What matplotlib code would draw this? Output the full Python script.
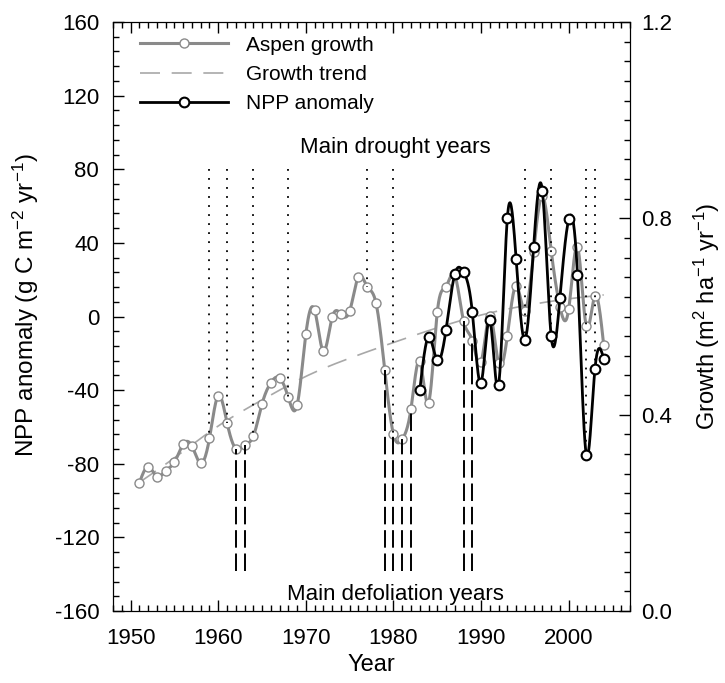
#!/usr/bin/env python3
"""Aspen growth vs NPP anomaly with drought and defoliation years."""
import numpy as np
import matplotlib
matplotlib.use("Agg")
import matplotlib.pyplot as plt
from matplotlib.lines import Line2D
from matplotlib.ticker import MultipleLocator, FormatStrFormatter

plt.rcParams["font.family"] = ["Liberation Sans", "DejaVu Sans"]
plt.rcParams["mathtext.fontset"] = "custom"
plt.rcParams["mathtext.rm"] = "Liberation Sans"
plt.rcParams["mathtext.it"] = "Liberation Sans:italic"
plt.rcParams["axes.unicode_minus"] = False
plt.rcParams["xtick.direction"] = "in"
plt.rcParams["ytick.direction"] = "in"

# ---- data ----
growth_years = list(range(1951, 2005))
growth = [0.261, 0.294, 0.274, 0.286, 0.303, 0.340, 0.336, 0.301, 0.352, 0.439,
          0.384, 0.331, 0.338, 0.356, 0.422, 0.465, 0.475, 0.435, 0.419, 0.564,
          0.613, 0.529, 0.598, 0.605, 0.611, 0.681, 0.661, 0.628, 0.492, 0.360,
          0.350, 0.412, 0.509, 0.424, 0.609, 0.661, 0.684, 0.591, 0.551, 0.507,
          0.602, 0.505, 0.561, 0.663, 0.612, 0.732, 0.845, 0.734, 0.620, 0.615,
          0.742, 0.581, 0.642, 0.541]

trend_years = [1951, 1955, 1960, 1965, 1970, 1975, 1980, 1985, 1990, 1995, 2000, 2004]
trend = [0.262, 0.312, 0.377, 0.430, 0.478, 0.515, 0.547, 0.577, 0.603, 0.622, 0.636, 0.644]

npp_years = list(range(1983, 2005))
npp = [-40.2, -11.2, -23.9, -7.1, 23.0, 24.1, 2.3, -36.1, -1.8, -37.3, 53.6,
       31.3, -12.5, 38.0, 68.1, -10.7, 10.1, 52.7, 22.8, -75.0, -28.4, -23.0]

drought_years = [1959, 1961, 1964, 1968, 1977, 1980, 1995, 1998, 2002, 2003]
defol_years = [1962, 1963, 1979, 1980, 1981, 1982, 1988, 1989]

NPP_LIM = (-160, 160)
GROWTH_LIM = (0.0, 1.2)
DROUGHT_TOP = 80
DEFOL_BOTTOM = -138


def g_to_npp(g):
    f = (g - GROWTH_LIM[0]) / (GROWTH_LIM[1] - GROWTH_LIM[0])
    return NPP_LIM[0] + f * (NPP_LIM[1] - NPP_LIM[0])


def spline(x, y, n=20):
    # natural cubic spline, only used to draw smooth curves through the points
    x = np.asarray(x, float)
    y = np.asarray(y, float)
    nn = len(x)
    h = np.diff(x)
    A = np.zeros((nn, nn))
    r = np.zeros(nn)
    A[0, 0] = A[-1, -1] = 1
    for i in range(1, nn - 1):
        A[i, i - 1] = h[i - 1]
        A[i, i] = 2 * (h[i - 1] + h[i])
        A[i, i + 1] = h[i]
        r[i] = 3 * ((y[i + 1] - y[i]) / h[i] - (y[i] - y[i - 1]) / h[i - 1])
    c = np.linalg.solve(A, r)
    xs = np.linspace(x[0], x[-1], (nn - 1) * n + 1)
    idx = np.clip(np.searchsorted(x, xs) - 1, 0, nn - 2)
    dx = xs - x[idx]
    b = (y[1:] - y[:-1]) / h - h * (2 * c[:-1] + c[1:]) / 3
    d = (c[1:] - c[:-1]) / (3 * h)
    ys = y[idx] + b[idx] * dx + c[idx] * dx ** 2 + d[idx] * dx ** 3
    return xs, ys


fig = plt.figure(figsize=(7.25, 6.83), dpi=100)
fig.subplots_adjust(left=0.156, right=0.869, bottom=0.1054, top=0.9678)
ax = fig.add_subplot(111)
ax2 = ax.twinx()
ax.set_zorder(ax2.get_zorder() + 1)
ax.patch.set_visible(False)

GRAY = "#8a8a8a"
TREND = "#a8a8a8"

# growth (right axis)
xs, ys = spline(trend_years, trend)
ax2.plot(xs, ys, color=TREND, lw=1.2, dashes=(12, 7))
xs, ys = spline(growth_years, growth)
ax2.plot(xs, ys, color=GRAY, lw=2.2, zorder=3)
ax2.plot(growth_years, growth, ls="none", marker="o", ms=6.5, mfc="white",
         mec=GRAY, mew=1.0, zorder=4)

# NPP anomaly (left axis)
xs, ys = spline(npp_years, npp)
ax.plot(xs, ys, color="black", lw=2.0, zorder=5)
ax.plot(npp_years, npp, ls="none", marker="o", ms=7, mfc="white",
        mec="black", mew=1.5, zorder=6)

# drought years: dotted, from top down to the data
gmap = dict(zip(growth_years, growth))
nmap = dict(zip(npp_years, npp))
for yr in drought_years:
    low = g_to_npp(gmap[yr])
    if yr in nmap:
        low = min(low, nmap[yr])
    ax.plot([yr, yr], [DROUGHT_TOP, low], color="black", lw=1.3,
            dashes=(1.0, 4.0), zorder=2)

# defoliation years: dashed, from bottom up to the data
for yr in defol_years:
    ax.plot([yr, yr], [DEFOL_BOTTOM, g_to_npp(gmap[yr])], color="black",
            lw=1.4, dashes=(9, 3), zorder=2)

ax.text(1980.2, 92, "Main drought years", ha="center", va="center", fontsize=16)
ax.text(1980.2, -151, "Main defoliation years", ha="center", va="center", fontsize=16)

# axes
ax.set_xlim(1948, 2007)
ax.set_ylim(*NPP_LIM)
ax2.set_ylim(*GROWTH_LIM)
ax.xaxis.set_major_locator(MultipleLocator(10))
ax.xaxis.set_minor_locator(MultipleLocator(1))
ax.yaxis.set_major_locator(MultipleLocator(40))
ax.yaxis.set_minor_locator(MultipleLocator(8))
ax2.yaxis.set_major_locator(MultipleLocator(0.4))
ax2.yaxis.set_minor_locator(MultipleLocator(0.04))
ax2.yaxis.set_major_formatter(FormatStrFormatter("%.1f"))

ax.tick_params(axis="both", which="both", direction="in", labelsize=16)
ax.tick_params(axis="x", which="both", top=True)
ax.tick_params(which="major", length=8, width=1)
ax.tick_params(which="minor", length=4.5, width=1)
ax.tick_params(axis="x", which="major", pad=12)
ax.tick_params(axis="y", which="major", pad=10)
ax2.tick_params(axis="y", which="both", direction="in", labelsize=16)
ax2.tick_params(which="major", length=8, width=1, pad=8)
ax2.tick_params(which="minor", length=4.5, width=1)

ax.set_xlabel("Year", fontsize=17, labelpad=4)
ax.set_ylabel("NPP anomaly (g C m$^{-2}$ yr$^{-1}$)", fontsize=17.5)
ax.yaxis.set_label_coords(-0.14, 0.52)
ax2.set_ylabel("Growth (m$^{2}$ ha$^{-1}$ yr$^{-1}$)", fontsize=17, labelpad=14)

handles = [
    Line2D([], [], color=GRAY, lw=2.2, marker="o", ms=6.5, mfc="white", mec=GRAY),
    Line2D([], [], color=TREND, lw=1.2, dashes=(12, 7)),
    Line2D([], [], color="black", lw=2.0, marker="o", ms=7, mfc="white",
           mec="black", mew=1.5),
]
labels = ["Aspen growth", "Growth trend", "NPP anomaly"]
ax.legend(handles, labels, loc="upper left", bbox_to_anchor=(0.053, 0.977),
          frameon=False, fontsize=15, handlelength=4.2, handletextpad=0.85,
          labelspacing=0.5, borderaxespad=0, borderpad=0)

plt.savefig("out.png", dpi=100)
